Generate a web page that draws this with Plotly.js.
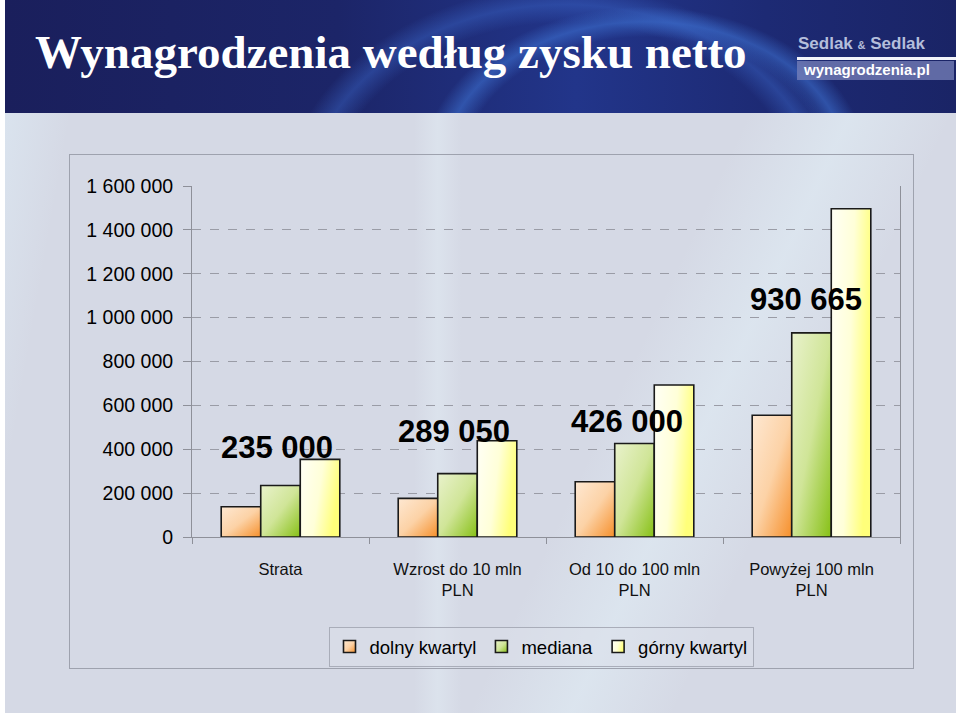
<!DOCTYPE html>
<html>
<head>
<meta charset="utf-8">
<script src="https://cdn.plot.ly/plotly-3.0.1.min.js"></script>
<style>
  html, body { margin: 0; padding: 0; background: #ffffff; }
  #wrap { position: relative; width: 960px; height: 716px; overflow: hidden; background: #ffffff; }
  #slide { position: absolute; left: 5px; top: 0; width: 951px; height: 713px;
    background:
      linear-gradient(115deg, rgba(255,255,255,0) 62%, rgba(225,238,246,0.55) 70%, rgba(255,255,255,0) 78%),
      linear-gradient(90deg, rgba(255,255,255,0) 43%, rgba(226,236,244,0.5) 45.5%, rgba(255,255,255,0) 48%),
      linear-gradient(100deg, rgba(222,236,246,0.7) 0%, rgba(255,255,255,0) 8%),
      #d5d9e5; }
  #header { position: absolute; left: 5px; top: 0; width: 951px; height: 113px;
    background:
      radial-gradient(ellipse 260px 190px at 640px 170px, rgba(0,0,0,0) 70%, rgba(60,110,205,0.6) 78%, rgba(0,0,0,0) 86%),
      radial-gradient(ellipse 330px 260px at 560px 210px, rgba(0,0,0,0) 72%, rgba(55,95,190,0.5) 79%, rgba(0,0,0,0) 86%),
      linear-gradient(90deg, #1a1f5c 0%, #1c2568 35%, #22358a 60%, #1d2a74 80%, #1a2466 100%); }
  #box { position: absolute; left: 69px; top: 154px; width: 843px; height: 513px; border: 1px solid #9ea2ae; }
  #logoline { position: absolute; left: 797px; top: 57px; width: 159px; height: 3px; background: #f2f4fa; }
  #logobox { position: absolute; left: 797px; top: 61px; width: 157px; height: 19px; background: rgba(120,130,185,0.75); }
  #chart { position: absolute; left: 0; top: 0; width: 960px; height: 716px; }
</style>
</head>
<body>
<div id="wrap">
  <div id="slide"></div>
  <div id="header"></div>
  <div id="box"></div>
  <div id="logoline"></div>
  <div id="logobox"></div>
  <div id="chart"></div>
</div>
<script>
// ---- data ----
const categories = ['Strata', 'Wzrost do 10 mln<br>PLN', 'Od 10 do 100 mln<br>PLN', 'Powyżej 100 mln<br>PLN'];
const seriesNames = ['dolny kwartyl', 'mediana', 'górny kwartyl'];
const dolnyKwartyl = [138000, 176000, 252000, 555000];
const mediana = [235000, 289050, 426000, 930665];
const gornyKwartyl = [354000, 439000, 693000, 1496000];
const yTickValues = [0, 200000, 400000, 600000, 800000, 1000000, 1200000, 1400000, 1600000];
const titleText = 'Wynagrodzenia według zysku netto';

// ---- layout helpers (pixel -> paper) ----
const L = 192, R = 900, T = 186, B = 537;
const fx = x => (x - L) / (R - L);
const fy = y => (B - y) / (B - T);

const fills = ['#fcc894', '#c9e08a', '#ffffc6'];
const seriesValues = [dolnyKwartyl, mediana, gornyKwartyl];

const traces = seriesValues.map((vals, i) => ({
  type: 'bar',
  name: seriesNames[i],
  x: categories,
  y: vals,
  marker: { color: fills[i], line: { color: '#1a1a1a', width: 1.6 } },
  hoverinfo: 'skip'
}));

function fmt(v) {
  return String(v).replace(/\B(?=(\d{3})+(?!\d))/g, ' ');
}

const labelNudge = [[-4, 38], [-4, 42], [-8, 22], [-6, 33]];
const valueLabels = mediana.map((v, i) => ({
  x: categories[i], xref: 'x', y: v, yref: 'y',
  xshift: labelNudge[i][0], yshift: labelNudge[i][1],
  xanchor: 'center', yanchor: 'middle',
  text: fmt(v), showarrow: false,
  font: { family: 'Liberation Sans, Arial, sans-serif', size: 31, color: '#000', weight: 'bold' }
}));

const logoAnnotations = [
  { xref: 'paper', yref: 'paper', x: fx(796), y: fy(43), xanchor: 'left', yanchor: 'middle', showarrow: false,
    text: 'Sedlak <span style="font-size:11px">&amp;</span> Sedlak',
    font: { family: 'Liberation Sans, Arial, sans-serif', size: 17, color: '#b4bedb', weight: 'bold' } },
  { xref: 'paper', yref: 'paper', x: fx(801), y: fy(70), xanchor: 'left', yanchor: 'middle', showarrow: false,
    text: 'wynagrodzenia.pl',
    font: { family: 'Liberation Sans, Arial, sans-serif', size: 15, color: '#ffffff', weight: 'bold' } }
];

const layout = {
  width: 960, height: 716,
  margin: { l: L, r: 960 - R, t: T, b: 716 - B, pad: 0 },
  paper_bgcolor: 'rgba(0,0,0,0)',
  plot_bgcolor: 'rgba(0,0,0,0)',
  separators: ', ',
  font: { family: 'Liberation Sans, Arial, sans-serif', color: '#000' },
  title: {
    text: titleText,
    xref: 'container', yref: 'container',
    x: 35 / 960, y: 1 - 52 / 716, xanchor: 'left', yanchor: 'middle',
    font: { family: 'Liberation Serif, Times New Roman, serif', size: 47, color: '#ffffff', weight: 'bold' }
  },
  barmode: 'group',
  bargap: 0.33,
  bargroupgap: 0,
  showlegend: true,
  legend: {
    orientation: 'h', x: fx(541), xanchor: 'center', y: fy(627), yanchor: 'top',
    bgcolor: 'rgba(220,224,234,0.5)', bordercolor: '#a9adb9', borderwidth: 1,
    font: { size: 18.5, color: '#000' }, itemwidth: 30, traceorder: 'normal'
  },
  xaxis: {
    type: 'category',
    showline: true, linecolor: '#8e9099', linewidth: 1,
    tickson: 'boundaries', ticks: 'outside', ticklen: 6, tickcolor: '#8e9099',
    showgrid: false, zeroline: false,
    ticklabelstandoff: 17,
    tickfont: { size: 16.5, color: '#111' },
    fixedrange: true
  },
  yaxis: {
    range: [0, 1600000], tickvals: yTickValues, tickformat: ',d',
    showline: true, mirror: true, linecolor: '#8e9099', linewidth: 1,
    ticks: 'outside', ticklen: 8, tickcolor: '#8e9099',
    showgrid: true, gridcolor: '#9a9ca6', griddash: 'dash', gridwidth: 1,
    zeroline: false,
    ticklabelstandoff: 6,
    tickfont: { size: 19.5, color: '#000' },
    fixedrange: true
  },
  annotations: valueLabels.concat(logoAnnotations)
};

const gradStops = [
  [[0, '#fee8d2'], [0.5, '#fcd2a6'], [1, '#f68f2a']],
  [[0, '#e9f2cc'], [0.5, '#d0e598'], [1, '#86c015']],
  [[0, '#fffff6'], [0.55, '#ffffd8'], [1, '#ffff7a']]
];

function applyGradients(gd) {
  const svg = gd.querySelector('.main-svg');
  const NS = 'http://www.w3.org/2000/svg';
  const defs = document.createElementNS(NS, 'defs');
  gradStops.forEach((stops, i) => {
    const g = document.createElementNS(NS, 'linearGradient');
    g.setAttribute('id', 'barGrad' + i);
    g.setAttribute('x1', '0'); g.setAttribute('y1', '0');
    g.setAttribute('x2', '1'); g.setAttribute('y2', i === 2 ? '0.3' : '1');
    stops.forEach(s => {
      const st = document.createElementNS(NS, 'stop');
      st.setAttribute('offset', s[0]);
      st.setAttribute('stop-color', s[1]);
      g.appendChild(st);
    });
    defs.appendChild(g);
  });
  svg.insertBefore(defs, svg.firstChild);
  gd.querySelectorAll('.barlayer .trace').forEach((tr, i) => {
    tr.querySelectorAll('path').forEach(p => { p.style.fill = 'url(#barGrad' + i + ')'; });
  });
  gd.querySelectorAll('.legend .traces').forEach((tr, i) => {
    tr.querySelectorAll('.legendpoints path').forEach(p => { p.style.fill = 'url(#barGrad' + i + ')'; });
  });
}

Plotly.newPlot('chart', traces, layout, { displayModeBar: false, staticPlot: true })
  .then(gd => applyGradients(gd));
</script>
</body>
</html>
